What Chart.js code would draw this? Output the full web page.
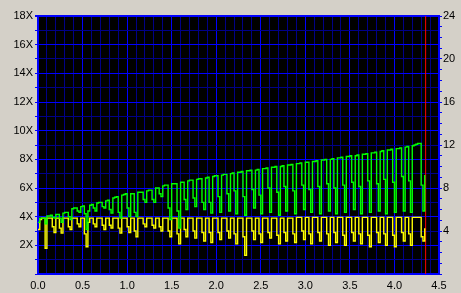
<!DOCTYPE html>
<html lang="en">
<head>
  <meta charset="UTF-8">
  <title>Speed graph</title>
  <style>
    body {
      margin: 0;
      background-color: #d4d0c8;
    }
    #chartContainer {
      width: 461px;
      height: 293px;
    }
  </style>
</head>
<body>
  <div id="chartContainer">
    <canvas id="speedChart" width="461" height="293"></canvas>
  </div>

  <script src="https://cdn.jsdelivr.net/npm/chart.js"></script>
  <script>
    // samples every 0.02 (x axis units), starting at 0
    const startPos = 0;
    const sampleStep = 0.02;

    // write speed (X), left axis
    const speedValues = [
      3.6, 3.9, 3.9, 3.9, 3.5,
      4.05, 4.05, 4.1, 3.95, 3.9,
      4.15, 4.15, 3.9, 3.6,
      4.25, 4.3, 4.3, 4.0, 3.8,
      4.55, 4.6, 4.6, 4.4, 4.3,
      4.7, 4.75, 4.2, 3.1,
      4.4, 4.8, 4.85, 4.6, 4.4,
      4.95, 5.0, 5.0, 4.7, 4.6,
      5.1, 5.15, 4.5, 4.25,
      5.3, 5.35, 5.4, 4.3, 3.9,
      5.5, 5.55, 5.6, 4.6, 4.0,
      5.6, 5.6, 4.3, 4.0,
      5.7, 5.7, 5.7, 5.2, 5.0,
      5.8, 5.85, 5.85, 5.2, 5.0,
      6.0, 6.0, 5.6, 5.4,
      6.15, 6.2, 6.2, 4.6, 3.8,
      6.3, 6.3, 6.3, 4.4, 3.2,
      6.4, 6.4, 5.2, 4.5,
      6.5, 6.55, 6.55, 5.3, 4.7,
      6.6, 6.65, 6.65, 5.0, 4.5,
      6.7, 6.75, 5.0, 4.25,
      6.8, 6.85, 6.85, 5.4, 4.3,
      6.9, 6.95, 6.95, 5.6, 4.4,
      7.0, 7.05, 5.8, 4.2,
      7.1, 7.1, 7.15, 5.4, 4.1,
      7.2, 7.2, 7.25, 5.9, 4.6,
      7.25, 7.3, 5.5, 4.2,
      7.35, 7.35, 7.4, 6.0, 4.3,
      7.45, 7.45, 7.5, 5.7, 4.1,
      7.5, 7.55, 6.1, 4.4,
      7.6, 7.6, 7.65, 5.8, 4.2,
      7.7, 7.7, 7.75, 6.2, 4.5,
      7.8, 7.8, 5.9, 4.3,
      7.85, 7.85, 7.9, 6.1, 4.2,
      7.95, 7.95, 8.0, 6.3, 4.4,
      8.0, 8.05, 6.0, 4.2,
      8.1, 8.1, 8.15, 6.2, 4.3,
      8.2, 8.2, 8.25, 6.4, 4.5,
      8.25, 8.3, 6.1, 4.2,
      8.35, 8.35, 8.4, 6.5, 4.3,
      8.45, 8.45, 8.5, 6.3, 4.4,
      8.55, 8.6, 6.6, 4.2,
      8.65, 8.65, 8.7, 6.4, 4.3,
      8.75, 8.75, 8.8, 6.8, 4.4,
      8.85, 8.9, 6.5, 4.3,
      8.95, 9.0, 9.05, 9.1, 9.1,
      6.2, 4.4, 6.9
    ];

    // second trace (yellow), same sample times, left axis units
    const bufferValues = [
      3.1, 3.8, 3.9, 3.9, 1.8,
      3.9, 3.9, 3.9, 3.3, 2.9,
      3.9, 3.9, 3.2, 2.85,
      3.9, 3.9, 3.9, 3.3, 3.1,
      3.9, 3.9, 3.9, 3.5, 3.3,
      3.9, 3.9, 2.8, 1.9,
      3.6, 3.9, 3.9, 3.5, 3.3,
      3.9, 3.9, 3.9, 3.4, 3.1,
      3.9, 3.9, 3.4, 3.2,
      3.9, 3.9, 3.9, 3.2, 2.85,
      3.9, 3.9, 3.9, 3.3, 2.9,
      3.9, 3.9, 3.0, 2.6,
      3.9, 3.9, 3.9, 3.5, 3.3,
      3.9, 3.9, 3.9, 3.4, 3.2,
      3.9, 3.9, 3.3, 3.0,
      3.9, 3.9, 3.9, 3.0, 2.6,
      3.9, 3.9, 3.9, 2.8, 2.1,
      3.9, 3.9, 3.1, 2.6,
      3.9, 3.9, 3.9, 3.0, 2.5,
      3.9, 3.9, 3.9, 2.9, 2.3,
      3.9, 3.9, 2.9, 2.2,
      3.9, 3.9, 3.9, 2.9, 2.4,
      3.9, 3.9, 3.9, 3.0, 2.5,
      3.9, 3.9, 2.8, 2.1,
      3.9, 3.9, 3.9, 2.6, 1.3,
      3.9, 3.9, 3.9, 3.0, 2.4,
      3.9, 3.9, 2.8, 2.2,
      3.9, 3.9, 3.9, 2.9, 2.5,
      3.9, 3.9, 3.9, 2.7, 2.1,
      3.9, 3.9, 2.9, 2.3,
      3.9, 3.9, 3.9, 2.8, 2.2,
      3.95, 3.95, 3.95, 3.0, 2.4,
      3.95, 3.95, 2.8, 2.1,
      3.95, 3.95, 3.95, 2.9, 2.3,
      3.95, 3.95, 3.95, 2.8, 2.0,
      3.95, 3.95, 2.9, 2.2,
      3.95, 3.95, 3.95, 2.7, 2.0,
      3.95, 3.95, 3.95, 2.9, 2.3,
      3.95, 3.95, 2.8, 2.1,
      3.95, 3.95, 3.95, 2.7, 1.9,
      3.95, 3.95, 3.95, 2.9, 2.2,
      3.95, 3.95, 2.8, 2.0,
      3.95, 3.95, 3.95, 2.7, 1.9,
      3.95, 3.95, 3.95, 2.9, 2.3,
      3.95, 3.95, 2.8, 2.0,
      3.95, 3.95, 3.95, 3.95, 3.95,
      2.6, 2.3, 3.2
    ];

    // red marker (end of recording)
    const endMarker = 4.35;

    // axes
    const xMax = 4.5;
    const leftMax = 18;
    const rightMax = 24;

    const MAJOR = '#0000ff';
    const MINOR = '#000088';
    const FONT = { family: '"Liberation Sans", Arial, sans-serif', size: 11 };

    const speedPoints = speedValues.map((v, i) => ({ x: startPos + i * sampleStep, y: v }));
    const bufferPoints = bufferValues.map((v, i) => ({ x: startPos + i * sampleStep, y: v }));

    const blackArea = {
      id: 'blackArea',
      beforeDraw(chart) {
        const { ctx, chartArea: a } = chart;
        ctx.save();
        ctx.fillStyle = '#000000';
        ctx.fillRect(a.left, a.top, a.right - a.left, a.bottom - a.top);
        ctx.restore();
      }
    };

    const ctx = document.getElementById('speedChart').getContext('2d');
    new Chart(ctx, {
      type: 'line',
      data: {
        datasets: [
          {
            data: speedPoints,
            borderColor: '#00ff00',
            borderWidth: 1.4,
            pointRadius: 0,
            stepped: true,
            yAxisID: 'y'
          },
          {
            data: bufferPoints,
            borderColor: '#ffff00',
            borderWidth: 1.4,
            pointRadius: 0,
            stepped: true,
            yAxisID: 'y'
          },
          {
            data: [{ x: endMarker, y: 0 }, { x: endMarker, y: leftMax }],
            borderColor: '#ff0000',
            borderWidth: 1,
            pointRadius: 0,
            yAxisID: 'y'
          }
        ]
      },
      options: {
        responsive: false,
        animation: false,
        events: [],
        layout: { padding: { top: 16, left: 0, right: 0, bottom: 0 } },
        plugins: {
          legend: { display: false },
          tooltip: { enabled: false }
        },
        scales: {
          x: {
            type: 'linear',
            min: 0,
            max: xMax,
            afterFit: s => { s.height = 19; },
            border: { color: MAJOR, width: 2 },
            grid: {
              drawTicks: false,
              color: c => Math.round(c.tick.value * 10) % 5 === 0 ? MAJOR : MINOR
            },
            ticks: {
              stepSize: 0.1,
              autoSkip: false,
              maxRotation: 0,
              padding: 5,
              color: '#000000',
              font: FONT,
              callback: v => Math.round(v * 10) % 5 === 0 ? v.toFixed(1) : ''
            }
          },
          y: {
            position: 'left',
            min: 0,
            max: leftMax,
            afterFit: s => { s.width = 38; },
            border: { color: MAJOR, width: 2 },
            grid: {
              tickLength: 3,
              tickColor: MAJOR,
              color: c => c.tick.value % 2 === 0 ? MAJOR : MINOR,
              lineWidth: c => c.tick.value === leftMax ? 2 : 1
            },
            ticks: {
              stepSize: 1,
              autoSkip: false,
              padding: 2,
              color: '#000000',
              font: FONT,
              callback: v => (v > 0 && v % 2 === 0) ? v + 'X' : ''
            }
          },
          y2: {
            position: 'right',
            min: 0,
            max: rightMax,
            afterFit: s => { s.width = 22; },
            border: { color: MAJOR, width: 2 },
            grid: {
              drawOnChartArea: false,
              tickLength: 3,
              tickColor: MAJOR
            },
            ticks: {
              stepSize: 1,
              autoSkip: false,
              padding: 1,
              color: '#000000',
              font: FONT,
              callback: v => (v > 0 && v % 4 === 0) ? String(v) : ''
            }
          }
        }
      },
      plugins: [blackArea]
    });
  </script>
</body>
</html>
